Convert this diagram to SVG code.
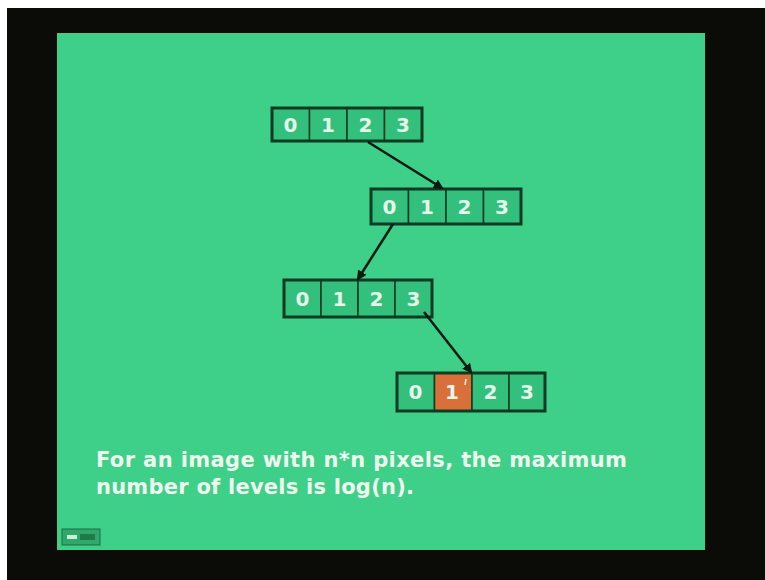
<svg xmlns="http://www.w3.org/2000/svg" width="765" height="580" viewBox="0 0 765 580">
<style>
.cell{fill:#33bf7c;stroke:#0e3a22;stroke-width:1.5}
.frame{fill:none;stroke:#0e3a22;stroke-width:3}
.d{font-family:"DejaVu Sans",sans-serif;font-weight:bold;font-size:20px;fill:#e4f7ea;text-anchor:middle}
.cap{font-family:"DejaVu Sans",sans-serif;font-weight:bold;font-size:21px;fill:#eef8ee}
.conn{stroke:#0a1a10;stroke-width:2.5;fill:none;marker-end:url(#ah)}
</style>
<defs>
<marker id="ah" viewBox="0 0 10 10" refX="8" refY="5" markerWidth="4" markerHeight="4" orient="auto" markerUnits="strokeWidth">
<path d="M0,0 L10,5 L0,10 z" fill="#0a1a10"/>
</marker>
</defs>
<rect x="0" y="0" width="765" height="580" fill="#ffffff"/>
<rect x="7" y="8" width="758" height="572" fill="#0b0b08"/>
<rect x="57" y="33" width="648" height="517" fill="#3ecf88"/>

<g id="row1">
<rect class="cell" x="272" y="108" width="37.5" height="33"/>
<rect class="cell" x="309.5" y="108" width="37.5" height="33"/>
<rect class="cell" x="347" y="108" width="37.5" height="33"/>
<rect class="cell" x="384.5" y="108" width="37.5" height="33"/>
<rect class="frame" x="272" y="108" width="150" height="33"/>
<text class="d" x="290.5" y="132">0</text>
<text class="d" x="328" y="132">1</text>
<text class="d" x="365.5" y="132">2</text>
<text class="d" x="403" y="132">3</text>
</g>

<g id="row2">
<rect class="cell" x="371" y="189" width="37.5" height="35"/>
<rect class="cell" x="408.5" y="189" width="37.5" height="35"/>
<rect class="cell" x="446" y="189" width="37.5" height="35"/>
<rect class="cell" x="483.5" y="189" width="37.5" height="35"/>
<rect class="frame" x="371" y="189" width="150" height="35"/>
<text class="d" x="389.5" y="214">0</text>
<text class="d" x="427" y="214">1</text>
<text class="d" x="464.5" y="214">2</text>
<text class="d" x="502" y="214">3</text>
</g>

<g id="row3">
<rect class="cell" x="284" y="280" width="37" height="37"/>
<rect class="cell" x="321" y="280" width="37" height="37"/>
<rect class="cell" x="358" y="280" width="37" height="37"/>
<rect class="cell" x="395" y="280" width="37" height="37"/>
<rect class="frame" x="284" y="280" width="148" height="37"/>
<text class="d" x="302.5" y="306">0</text>
<text class="d" x="339.5" y="306">1</text>
<text class="d" x="376.5" y="306">2</text>
<text class="d" x="413.5" y="306">3</text>
</g>

<g id="row4">
<rect class="cell" x="397" y="373" width="37.5" height="38"/>
<rect x="434.5" y="373" width="37.5" height="38" fill="#d9703a" stroke="#0e3a22" stroke-width="1.5"/>
<rect class="cell" x="472" y="373" width="37" height="38"/>
<rect class="cell" x="509" y="373" width="36" height="38"/>
<rect class="frame" x="397" y="373" width="148" height="38"/>
<text class="d" x="415.5" y="399">0</text>
<text class="d" x="452" y="399">1</text>
<line x1="466" y1="379" x2="465" y2="385" stroke="#f2f2f2" stroke-width="1.5"/>
<text class="d" x="490.5" y="399">2</text>
<text class="d" x="527" y="399">3</text>
</g>

<g id="connectors">
<line class="conn" x1="368" y1="142" x2="442" y2="188"/>
<line class="conn" x1="393" y1="224" x2="358" y2="279"/>
<line class="conn" x1="424" y1="312" x2="471" y2="372"/>
</g>

<g id="caption">
<text class="cap" x="96" y="467" textLength="531" lengthAdjust="spacing">For an image with n*n pixels, the maximum</text>
<text class="cap" x="96" y="494" textLength="318" lengthAdjust="spacing">number of levels is log(n).</text>
</g>

<g id="button">
<rect x="62" y="529" width="38" height="16" fill="#2fa86a" stroke="#1f6e45" stroke-width="1"/>
<rect x="67" y="535" width="10" height="4" fill="#cfeedd"/>
<rect x="80" y="534" width="15" height="6" fill="#1f7a4a"/>
</g>
</svg>
